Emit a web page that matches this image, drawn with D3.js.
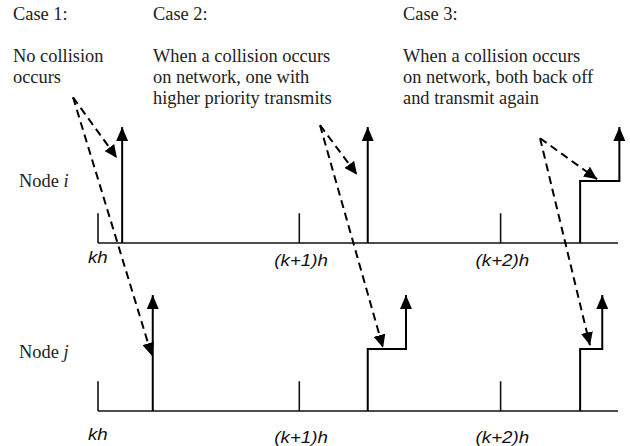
<!DOCTYPE html>
<html>
<head>
<meta charset="utf-8">
<script src="https://cdn.jsdelivr.net/npm/d3@7"></script>
<style>
  body { margin: 0; background: #fff; }
  svg { display: block; }
  .serif { font-family: "Liberation Serif", "Times New Roman", serif; font-size: 18.4px; fill: #222; }
  .tick-label { font-family: "Liberation Sans", Arial, sans-serif; font-style: italic; font-size: 16px; fill: #111; }
</style>
</head>
<body>
<svg width="630" height="446"></svg>
<script>
// sampling instants, in units of h
var sampleTimes = [0, 1, 2];
var sampleLabels = ["kh", "(k+1)h", "(k+2)h"];

// cases
var caseTitles = ["Case 1:", "Case 2:", "Case 3:"];
var caseNotes = [
  ["No collision", "occurs"],
  ["When a collision occurs", "on network, one with", "higher priority transmits"],
  ["When a collision occurs", "on network, both back off", "and transmit again"]
];

// transmission of each node per case: when it starts waiting, when it sends (h units)
var nodeNames = ["i", "j"];
var nodeIStart = [0.12, 1.34, 2.395];
var nodeISend  = [0.12, 1.34, 2.59];
var nodeJStart = [0.272, 1.34, 2.395];
var nodeJSend  = [0.272, 1.53, 2.505];

// dashed annotation arrows: from the note to node i and node j
var noteX   = [-0.124, 1.103, 2.196];
var noteLvl = [2.35, 1.90, 1.69];
var hitIX   = [0.094, 1.287, 2.479];
var hitILvl = [1.37, 1.10, 1.03];
var hitJX   = [0.268, 1.416, 2.444];
var hitJLvl = [0.89, 1.02, 1.06];

var svg = d3.select("svg");

var xScale = d3.scaleLinear().domain([0, 2]).range([98, 500.6]);
var axisEnd = 2.583;

// one level scale per node (0 = idle line, 1 = waiting step)
var yI = d3.scaleLinear().domain([0, 1]).range([243, 181]);
var yJ = d3.scaleLinear().domain([0, 1]).range([411, 349]);
var yScales = [yI, yJ];
var arrowTop = 1.87, tickTop = 0.48;

// markers
var defs = svg.append("defs");
defs.append("marker").attr("id", "solidHead")
  .attr("markerUnits", "userSpaceOnUse")
  .attr("viewBox", "0 0 14 12").attr("refX", 14).attr("refY", 6)
  .attr("markerWidth", 14).attr("markerHeight", 12)
  .attr("orient", "auto")
  .append("path").attr("d", "M0,0 L14,6 L0,12 Z").attr("fill", "#000");
defs.append("marker").attr("id", "dashHead")
  .attr("markerUnits", "userSpaceOnUse")
  .attr("viewBox", "0 0 13 12").attr("refX", 13).attr("refY", 6)
  .attr("markerWidth", 13).attr("markerHeight", 12)
  .attr("orient", "auto")
  .append("path").attr("d", "M0,0 L13,6 L0,12 Z").attr("fill", "#000");

// header texts
var header = svg.append("g").classed("header", true);
var colX = [13, 153, 403];
header.selectAll("text.title").data(caseTitles).enter()
  .append("text").attr("class", "serif title")
  .attr("x", function(d, i) { return colX[i]; })
  .attr("y", 20)
  .text(function(d) { return d; });

caseNotes.forEach(function(lines, c) {
  header.selectAll("text.note" + c).data(lines).enter()
    .append("text").attr("class", "serif note" + c)
    .attr("x", colX[c])
    .attr("y", function(d, i) { return 62 + i * 21; })
    .text(function(d) { return d; });
});

// node rows
nodeNames.forEach(function(name, n) {
  var y = yScales[n];
  var g = svg.append("g").classed("node-" + name, true);
  var starts = n === 0 ? nodeIStart : nodeJStart;
  var sends = n === 0 ? nodeISend : nodeJSend;

  g.append("text").attr("class", "serif")
    .attr("x", 19).attr("y", y(0) - (n === 0 ? 56 : 53))
    .text("Node ")
    .append("tspan").attr("font-style", "italic").text(name);

  // time line
  g.append("line")
    .attr("x1", xScale(0)).attr("x2", xScale(axisEnd))
    .attr("y1", y(0)).attr("y2", y(0))
    .attr("stroke", "#111").attr("stroke-width", 1.6);

  g.selectAll("line.tick").data(sampleTimes).enter()
    .append("line").classed("tick", true)
    .attr("x1", function(d) { return xScale(d); })
    .attr("x2", function(d) { return xScale(d); })
    .attr("y1", y(0)).attr("y2", y(tickTop))
    .attr("stroke", "#111").attr("stroke-width", 1.6);

  g.selectAll("text.tick-label").data(sampleLabels).enter()
    .append("text").attr("class", "tick-label")
    .attr("x", function(d, i) { return xScale(sampleTimes[i]) - (i === 0 ? 10 : 25); })
    .attr("y", function(d, i) { return y(0) + (n === 0 ? 20 : 29) + (i === 0 ? 0 : 3); })
    .attr("transform", function(d, i) {
      var x0 = xScale(sampleTimes[i]) - (i === 0 ? 10 : 25);
      return "translate(" + x0 + ",0) scale(1.17,1) translate(" + (-x0) + ",0)";
    })
    .text(function(d) { return d; });

  // transmissions
  g.selectAll("path.tx").data(starts).enter()
    .append("path").classed("tx", true)
    .attr("d", function(d, c) {
      var p = d3.path();
      p.moveTo(xScale(d), y(0));
      if (sends[c] !== d) {
        p.lineTo(xScale(d), y(1));
        p.lineTo(xScale(sends[c]), y(1));
      }
      p.lineTo(xScale(sends[c]), y(arrowTop));
      return p.toString();
    })
    .attr("fill", "none").attr("stroke", "#000").attr("stroke-width", 2)
    .attr("marker-end", "url(#solidHead)");
});

// dashed arrows
var notes = svg.append("g").classed("notes", true);
var links = [];
caseTitles.forEach(function(t, c) {
  links.push({ x0: noteX[c], l0: noteLvl[c], x1: hitIX[c], y1: yI(hitILvl[c]) });
  links.push({ x0: noteX[c], l0: noteLvl[c], x1: hitJX[c], y1: yJ(hitJLvl[c]) });
});
notes.selectAll("line").data(links).enter()
  .append("line")
  .attr("x1", function(d) { return xScale(d.x0); })
  .attr("y1", function(d) { return yI(d.l0); })
  .attr("x2", function(d) { return xScale(d.x1); })
  .attr("y2", function(d) { return d.y1; })
  .attr("stroke", "#000").attr("stroke-width", 2)
  .attr("stroke-dasharray", "8,5")
  .attr("marker-end", "url(#dashHead)");
</script>
</body>
</html>
